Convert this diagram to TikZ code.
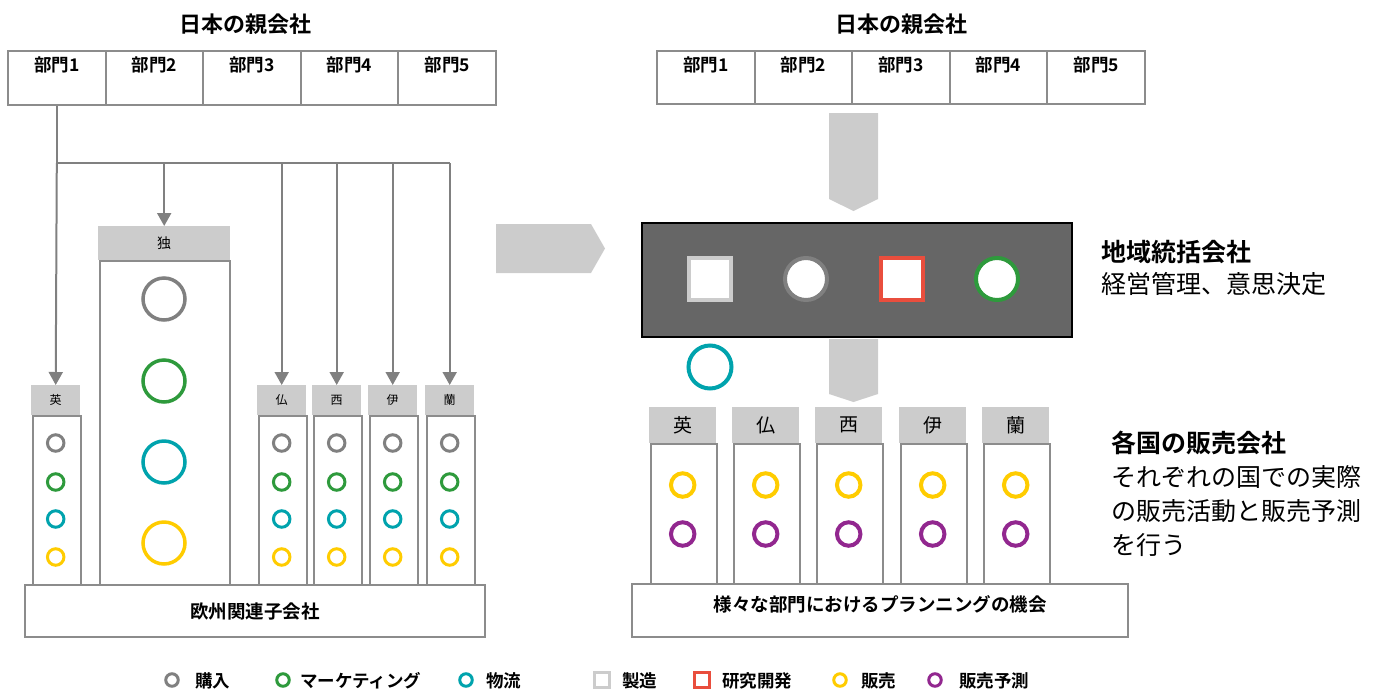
\documentclass[tikz,border=0pt]{standalone}
\usepackage{fontspec}
\setmainfont{Noto Sans CJK JP}[BoldFont={Noto Sans CJK JP Bold}]
\usetikzlibrary{arrows.meta,calc}
\definecolor{lgray}{HTML}{808080}
\definecolor{bgray}{HTML}{8C8C8C}
\definecolor{hdr}{HTML}{CCCCCC}
\definecolor{dark}{HTML}{666666}
\definecolor{cgreen}{HTML}{2E9A3C}
\definecolor{cteal}{HTML}{00A3AD}
\definecolor{cyellow}{HTML}{FFCC00}
\definecolor{cpurple}{HTML}{92278F}
\definecolor{cred}{HTML}{E94E3D}
\definecolor{cgrayc}{HTML}{808080}
\newcommand{\fs}[1]{\fontsize{#1}{#1}\selectfont}
\begin{document}
\begin{tikzpicture}[x=1pt,y=-1pt,
  box/.style={draw=bgray,line width=2pt,fill=white,inner sep=0,anchor=north west},
  hdrbox/.style={fill=hdr,inner sep=0,anchor=north west},
  darkbox/.style={draw=black,line width=2pt,fill=dark,inner sep=0,anchor=north west},
  txt/.style={inner sep=0,text=black},
  title/.style={txt,font=\fs{22}\bfseries},
  dept/.style={txt,font=\fs{17.5}\bfseries},
  conn/.style={draw=lgray,line width=2pt},
  arr/.style={conn,-{Triangle[width=14pt,length=13pt]}},
  sc/.style={circle,draw=#1,line width=3pt,minimum size=16.5pt,inner sep=0,fill=white},
  bc/.style={circle,draw=#1,line width=3.5pt,minimum size=42pt,inner sep=0,fill=white},
  rc/.style={circle,draw=#1,line width=4pt,minimum size=23.5pt,inner sep=0,fill=white},
  ic/.style={circle,draw=#1,line width=4pt,minimum size=42pt,inner sep=0,fill=white},
  isq/.style={rectangle,draw=#1,line width=4pt,minimum size=42pt,inner sep=0,fill=white},
  lc/.style={circle,draw=#1,line width=3pt,minimum size=12.5pt,inner sep=0},
  lsq/.style={rectangle,draw=#1,line width=3pt,minimum size=15pt,inner sep=0,fill=white},
  legtext/.style={txt,anchor=west,font=\fs{17.5}\bfseries},
  chev/.style={fill=hdr,draw=none}]
\useasboundingbox (0,0) rectangle (1387,689);

% ---------------- LEFT ----------------
\node[title] (ltitle) at (245,24) {日本の親会社};
\foreach \i/\x in {1/7,2/104.6,3/202.2,4/299.8,5/397.4}{
  \node[box,minimum width=97.6,minimum height=54] (L\i) at (\x,50) {};
  \node[dept] (Lt\i) at ([yshift=-15pt]L\i.north) {部門\i};
}
% columns
\node[box,minimum width=48,minimum height=169] (Eb) at (31.5,415) {};
\node[hdrbox,minimum width=49,minimum height=30] (E) at (31,385) {};
\node[box,minimum width=130,minimum height=324] (Db) at (99,260) {};
\node[hdrbox,minimum width=132,minimum height=34] (D) at (98,226) {};
\foreach \n/\x in {F/257,S/312,I/368,N/425}{
  \node[box,minimum width=48,minimum height=169] (\n b) at (\x.5,415) {};
  \node[hdrbox,minimum width=49,minimum height=30] (\n) at (\x,385) {};
}
\node[txt,font=\fs{12}] at (E.center) {英};
\node[txt,font=\fs{14}] at (D.center) {独};
\node[txt,font=\fs{12}] at (F.center) {仏};
\node[txt,font=\fs{12}] at (S.center) {西};
\node[txt,font=\fs{12}] at (I.center) {伊};
\node[txt,font=\fs{12}] at (N.center) {蘭};
% small circles
\foreach \n in {E,F,S,I,N}{
  \node[sc=cgrayc] at (\n.center |- 0,443) {};
  \node[sc=cgreen] at (\n.center |- 0,482) {};
  \node[sc=cteal] at (\n.center |- 0,519) {};
  \node[sc=cyellow] at (\n.center |- 0,557) {};
}
\node[bc=cgrayc] (D1) at (164,299) {};
\node[bc=cgreen] (D2) at (164,381) {};
\node[bc=cteal] (D3) at (164,462) {};
\node[bc=cyellow] (D4) at (164,543) {};
\node[box,minimum width=460,minimum height=52] (EU) at (24,584) {};
\node[txt,font=\fs{18.5}\bfseries] at (EU.center) {欧州関連子会社};
% connectors
\coordinate (busy) at (0,163);
\draw[conn] (L1.south) -- (L1.south |- busy) -- (N.north |- busy);
\draw[arr] (L1.south |- busy) -- (E.north);
\draw[arr] (D.north |- busy) -- (D.north);
\foreach \n in {F,S,I,N}{ \draw[arr] (\n.north |- busy) -- (\n.north); }

% big arrow
\fill[chev] (496,224) -- (591,224) -- (605,248.5) -- (591,273) -- (496,273) -- cycle;

% ---------------- RIGHT ----------------
\node[title] (rtitle) at (901,24) {日本の親会社};
\foreach \i/\x in {1/656,2/753.6,3/851.2,4/948.8,5/1046.4}{
  \node[box,minimum width=97.6,minimum height=53] (R\i) at (\x,50) {};
  \node[dept] (Rt\i) at ([yshift=-15pt]R\i.north) {部門\i};
}
\fill[chev] (829,113) -- (878,113) -- (878,199) -- (853.5,211) -- (829,199) -- cycle;
\node[darkbox,minimum width=430,minimum height=114] (HQ) at (641,222) {};
\node[isq=hdr] (q1) at (710,279) {};
\node[ic=cgrayc] (q2) at (806,279) {};
\node[isq=cred] (q3) at (902,279) {};
\node[ic=cgreen] (q4) at (997,279) {};
\fill[chev] (829,339) -- (878,339) -- (878,394) -- (853.5,402) -- (829,394) -- cycle;
\node[ic=cteal,minimum size=43pt] (tc) at (710,367) {};
\foreach \n/\x/\t in {RE/649/英,RF/732/仏,RS/815/西,RI/899/伊,RN/982/蘭}{
  \node[box,minimum width=66,minimum height=141] (\n b) at (\x.5,443) {};
  \node[hdrbox,minimum width=67,minimum height=36] (\n) at (\x,407) {};
  \node[txt,font=\fs{19}] at (\n.center) {\t};
  \node[rc=cyellow] at (\n.center |- 0,485) {};
  \node[rc=cpurple] at (\n.center |- 0,534) {};
}
\node[box,minimum width=496,minimum height=53] (PL) at (631,583) {};
\node[txt,font=\fs{18.5}\bfseries] at ([yshift=-21pt]PL.north) {様々な部門におけるプランニングの機会};

% right texts
\node[txt,anchor=west,font=\fs{25}\bfseries] at (1101,252) {地域統括会社};
\node[txt,anchor=west,font=\fs{25}] at (1101,284) {経営管理、意思決定};
\node[txt,anchor=west,font=\fs{25}\bfseries] at (1111,443) {各国の販売会社};
\node[txt,anchor=west,font=\fs{25}] at (1111,477) {それぞれの国での実際};
\node[txt,anchor=west,font=\fs{25}] at (1111,511) {の販売活動と販売予測};
\node[txt,anchor=west,font=\fs{25}] at (1111,545) {を行う};

% legend
\node[lc=cgrayc] (g1) at (172,680) {};
\node[legtext] at (195,681) {購入};
\node[lc=cgreen] (g2) at (283,680) {};
\node[legtext] at (300,681) {マーケティング};
\node[lc=cteal] (g3) at (466,680) {};
\node[legtext] at (486,681) {物流};
\node[lsq=hdr] (g4) at (602,680) {};
\node[legtext] at (622,681) {製造};
\node[lsq=cred] (g5) at (702,680) {};
\node[legtext] at (722,681) {研究開発};
\node[lc=cyellow] (g6) at (840,680) {};
\node[legtext] at (861,681) {販売};
\node[lc=cpurple] (g7) at (935,680) {};
\node[legtext] at (959,681) {販売予測};
\end{tikzpicture}
\end{document}
